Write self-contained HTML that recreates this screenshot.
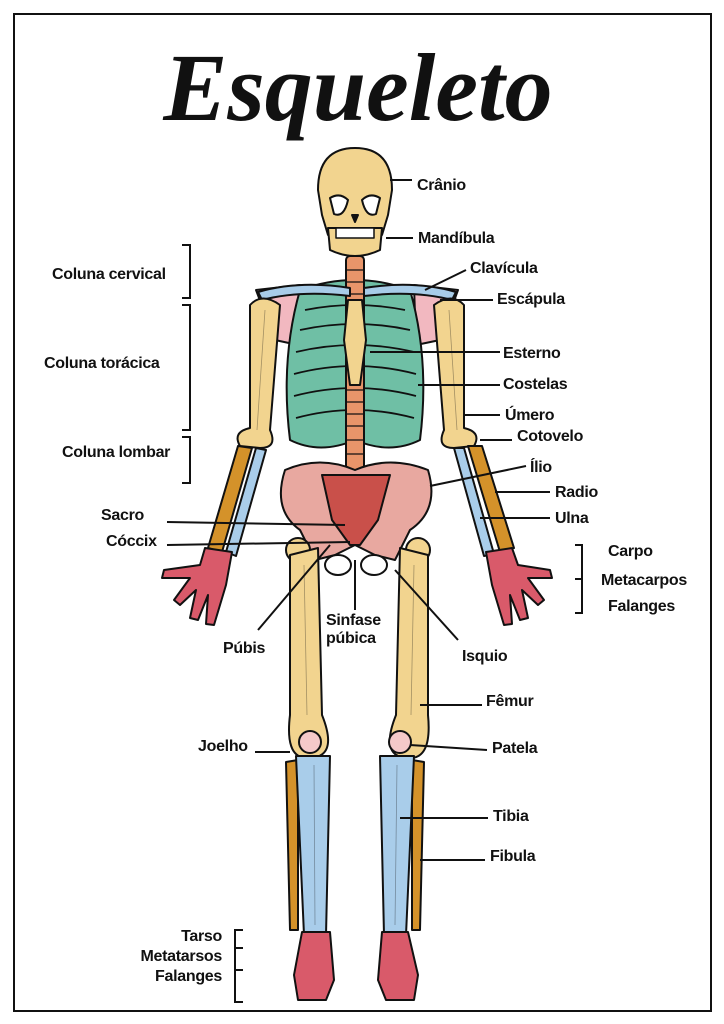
<!DOCTYPE html>
<html><head><meta charset="utf-8"><style>
html,body{margin:0;padding:0;background:#fff}
svg{display:block}
.l{font-family:"Liberation Sans",sans-serif;font-weight:bold;font-size:16px;fill:#111;letter-spacing:-0.3px}
</style></head><body>
<svg width="724" height="1024" viewBox="0 0 724 1024" xmlns="http://www.w3.org/2000/svg">
<rect x="14" y="14" width="697" height="997" fill="#fff" stroke="#111" stroke-width="2"/>
<text x="358" y="120" text-anchor="middle" font-family="Liberation Serif,serif" font-style="italic" font-weight="bold" font-size="96" fill="#111">Esqueleto</text>
<g stroke="#111" stroke-width="2" stroke-linejoin="round">
<path d="M256 290 L300 285 L298 345 L275 340 Z" fill="#f2b8c0"/>
<path d="M458 290 L414 285 L416 345 L440 340 Z" fill="#f2b8c0"/>
<path d="M300 290 Q355 270 410 290 Q430 360 420 440 Q390 455 355 440 Q320 455 290 440 Q280 360 300 290 Z" fill="#6fbfa5"/>
<g fill="none" stroke="#111" stroke-width="1.8">
<path d="M305 310 Q355 300 405 310"/><path d="M300 330 Q355 318 410 330"/><path d="M296 352 Q355 338 414 352"/><path d="M294 374 Q355 358 416 374"/><path d="M294 396 Q355 380 416 396"/><path d="M296 418 Q355 402 414 418"/>
</g>
<rect x="346" y="256" width="18" height="218" rx="4" fill="#e8956a"/>
<g stroke-width="1.3"><path d="M346 270H364M346 282H364M346 294H364M346 390H364M346 402H364M346 414H364M346 426H364M346 440H364M346 454H364"/></g>
<path d="M348 300 L362 300 L366 340 L360 385 L350 385 L344 340 Z" fill="#f2d48f"/>
<path d="M258 292 Q300 280 350 288 L350 296 Q300 290 262 300 Z" fill="#a8cce8"/>
<path d="M456 292 Q414 280 364 288 L364 296 Q414 290 452 300 Z" fill="#a8cce8"/>
<path d="M250 305 Q262 292 280 305 L270 430 Q278 448 260 448 L240 446 Q232 432 250 428 Z" fill="#f2d48f"/>
<path d="M464 305 Q452 292 434 305 L444 430 Q436 448 454 448 L474 446 Q482 432 464 428 Z" fill="#f2d48f"/>
<path d="M238 446 L252 448 L222 552 L208 548 Z" fill="#d4922a"/>
<path d="M256 448 L266 450 L236 556 L226 552 Z" fill="#a9cdea"/>
<path d="M468 446 L482 446 L514 548 L500 552 Z" fill="#d4922a"/>
<path d="M454 448 L464 448 L494 554 L484 556 Z" fill="#a9cdea"/>
<path d="M205 548 L232 552 L226 585 L214 625 L206 624 L208 595 L198 620 L190 618 L196 590 L180 605 L174 600 L190 578 L162 578 L164 570 L200 565 Z" fill="#d95a6a"/>
<path d="M512 548 L486 552 L492 585 L504 625 L512 624 L510 595 L520 620 L528 618 L522 590 L538 605 L544 600 L528 578 L552 578 L550 570 L518 565 Z" fill="#d95a6a"/>
<path d="M285 470 Q320 455 355 470 Q390 455 428 470 Q440 510 410 530 L395 560 L375 555 L355 545 L335 555 L315 560 L300 530 Q272 510 285 470 Z" fill="#e8a8a0"/>
<path d="M322 475 L390 475 L378 520 L360 545 L350 545 L332 520 Z" fill="#c9504a"/>
<ellipse cx="338" cy="565" rx="13" ry="10" fill="#fff"/><ellipse cx="374" cy="565" rx="13" ry="10" fill="#fff"/>
<circle cx="298" cy="550" r="12" fill="#f2d48f"/>
<circle cx="418" cy="550" r="12" fill="#f2d48f"/>
<path d="M290 555 L318 548 L322 715 Q340 760 305 758 Q285 756 290 715 Z" fill="#f2d48f"/>
<path d="M428 555 L400 548 L396 715 Q378 760 412 758 Q432 756 428 715 Z" fill="#f2d48f"/>
<circle cx="310" cy="742" r="11" fill="#f5c9c9"/><circle cx="400" cy="742" r="11" fill="#f5c9c9"/>
<path d="M286 762 L298 760 L298 930 L290 930 Z" fill="#d4922a"/>
<path d="M296 756 L330 756 L326 935 L304 935 Z" fill="#a9cdea"/>
<path d="M424 762 L412 760 L412 930 L420 930 Z" fill="#d4922a"/>
<path d="M380 756 L414 756 L406 935 L384 935 Z" fill="#a9cdea"/>
<path d="M302 932 L330 932 L334 980 L326 1000 L298 1000 L294 975 Z" fill="#d95a6a"/>
<path d="M408 932 L382 932 L378 980 L386 1000 L414 1000 L418 975 Z" fill="#d95a6a"/>
<path d="M318 190 Q318 148 355 148 Q392 148 392 190 L388 215 L382 235 L328 235 L322 215 Z" fill="#f2d48f"/>
<path d="M328 228 L382 228 L380 250 Q355 262 330 250 Z" fill="#f2d48f"/>
<rect x="336" y="228" width="38" height="10" fill="#fff" stroke-width="1.5"/>
<path d="M330 198 Q340 192 348 200 Q344 218 334 214 Z" fill="#fff"/>
<path d="M380 198 Q370 192 362 200 Q366 218 376 214 Z" fill="#fff"/>
<path d="M352 215 L358 215 L355 222 Z" fill="#111"/>
</g>
<g stroke="#111" stroke-width="0.8" stroke-opacity="0.35" fill="none">
<path d="M265 310L257 430M449 310L457 430M304 565L307 715M414 565L411 715M314 765L315 925M397 765L395 925"/>
</g>
<g stroke="#111" stroke-width="2" fill="none">
<path d="M390 180H412M386 238H413M425 290L466 270M440 300H493M370 352H500M418 385H500M465 415H500M480 440H512M430 486L526 466M495 492H550M480 518H550"/>
<path d="M575 545H582V613H575M575 579H582"/>
<path d="M182 245H190V298H182M182 305H190V430H182M182 437H190V483H182"/>
<path d="M167 522L345 525M167 545L350 542M258 630L330 545M355 560V610M395 570L458 640M420 705H482M255 752H290M410 745L487 750M400 818H488M420 860H485"/>
<path d="M243 930H235V1002H243M235 948H243M235 970H243"/>
</g>
<g class="l">
<text x="417" y="190">Crânio</text>
<text x="418" y="243">Mandíbula</text>
<text x="470" y="273">Clavícula</text>
<text x="497" y="304">Escápula</text>
<text x="503" y="358">Esterno</text>
<text x="503" y="389">Costelas</text>
<text x="505" y="420">Úmero</text>
<text x="517" y="441">Cotovelo</text>
<text x="530" y="472">Ílio</text>
<text x="555" y="497">Radio</text>
<text x="555" y="523">Ulna</text>
<text x="608" y="556">Carpo</text>
<text x="601" y="585">Metacarpos</text>
<text x="608" y="611">Falanges</text>
<text x="52" y="279">Coluna cervical</text>
<text x="44" y="368">Coluna torácica</text>
<text x="62" y="457">Coluna lombar</text>
<text x="101" y="520">Sacro</text>
<text x="106" y="546">Cóccix</text>
<text x="223" y="653">Púbis</text>
<text x="326" y="625">Sinfase</text>
<text x="326" y="643">púbica</text>
<text x="462" y="661">Isquio</text>
<text x="486" y="706">Fêmur</text>
<text x="198" y="751">Joelho</text>
<text x="492" y="753">Patela</text>
<text x="493" y="821">Tibia</text>
<text x="490" y="861">Fibula</text>
<text x="222" y="941" text-anchor="end">Tarso</text>
<text x="222" y="961" text-anchor="end">Metatarsos</text>
<text x="222" y="981" text-anchor="end">Falanges</text>
</g>
</svg>
</body></html>
